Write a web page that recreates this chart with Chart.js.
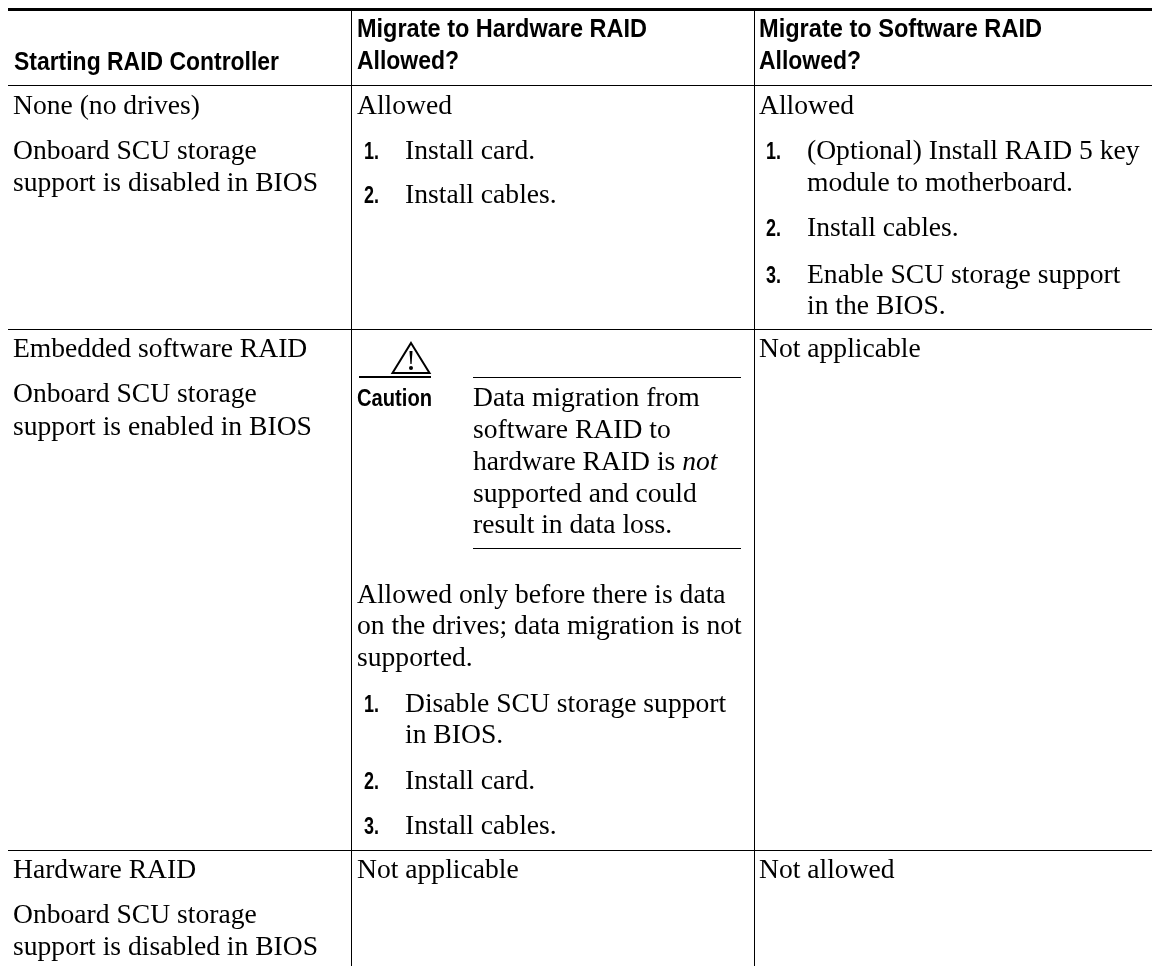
<!DOCTYPE html>
<html>
<head>
<meta charset="utf-8">
<title>RAID migration</title>
<script src="https://cdn.jsdelivr.net/npm/chart.js@4"></script>
<style>
html, body { margin: 0; padding: 0; background: #fff; }
canvas { display: block; }
</style>
</head>
<body>
<canvas id="table" width="1152" height="966"></canvas>
<script>
// table text, one array per group of lines
var headerLines = ['Starting RAID Controller', 'Migrate to Hardware RAID', 'Allowed?', 'Migrate to Software RAID', 'Allowed?'];
var startLines = ['None (no drives)', 'Onboard SCU storage', 'support is disabled in BIOS',
  'Embedded software RAID', 'Onboard SCU storage', 'support is enabled in BIOS',
  'Hardware RAID', 'Onboard SCU storage', 'support is disabled in BIOS'];
var hardwareLines = ['Allowed', 'Data migration from', 'software RAID to', 'hardware RAID is ', 'supported and could', 'result in data loss.',
  'Allowed only before there is data', 'on the drives; data migration is not', 'supported.', 'Not applicable'];
var softwareLines = ['Allowed', 'Not applicable', 'Not allowed'];
var hardwareSteps = ['Install card.', 'Install cables.', 'Disable SCU storage support', 'in BIOS.', 'Install card.', 'Install cables.'];
var hardwareNums = ['1.', '2.', '1.', '', '2.', '3.'];
var softwareSteps = ['(Optional) Install RAID 5 key', 'module to motherboard.', 'Install cables.', 'Enable SCU storage support', 'in the BIOS.'];
var softwareNums = ['1.', '', '2.', '3.', ''];

// layout, in page pixels
var colEdges = [351, 754];
var rowEdges = [9.5, 85, 329, 850];
var headerX = [14, 357, 357, 759, 759];
var headerY = [70, 37, 69, 37, 69];
var headerW = [265, 290, 102, 283, 102];
var startY = [114, 159, 191, 357, 402, 435, 878, 923, 955];
var hardwareX = [357, 473, 473, 473, 473, 473, 357, 357, 357, 357];
var hardwareY = [114, 406, 438, 470, 502, 533, 603, 634, 666, 878];
var softwareY = [114, 357, 878];
var hardwareStepY = [159, 203, 712, 743, 789, 834];
var softwareStepY = [159, 191, 236, 283, 314];

var serif = '27.6px "Liberation Serif"';
var narrowHead = 'bold 25.5px "Liberation Sans"';
var narrowNum = 'bold 24px "Liberation Sans"';
var narrowCaution = 'bold 23px "Liberation Sans"';

var tablePlugin = {
  id: 'tableText',
  afterDraw: function (chart) {
    var c = chart.ctx, sx = chart.scales.x, sy = chart.scales.y;
    function px(v) { return sx.getPixelForValue(v); }
    function py(v) { return sy.getPixelForValue(v); }
    function put(t, x, y) {
      c.font = serif;
      c.fillText(t, px(x), py(y));
    }
    // no narrow face installed, so squeeze the bold one
    function putBold(t, x, y, font, w) {
      if (!t) return;
      c.font = font;
      c.fillText(t, px(x), py(y), w);
    }
    c.save();
    c.fillStyle = '#000';
    c.textBaseline = 'alphabetic';
    headerLines.forEach(function (t, i) { putBold(t, headerX[i], headerY[i], narrowHead, headerW[i]); });
    startLines.forEach(function (t, i) { put(t, 13, startY[i]); });
    hardwareLines.forEach(function (t, i) { put(t, hardwareX[i], hardwareY[i]); });
    softwareLines.forEach(function (t, i) { put(t, 759, softwareY[i]); });
    hardwareSteps.forEach(function (t, i) {
      put(t, 405, hardwareStepY[i]);
      putBold(hardwareNums[i], 364, hardwareStepY[i], narrowNum, 15);
    });
    softwareSteps.forEach(function (t, i) {
      put(t, 807, softwareStepY[i]);
      putBold(softwareNums[i], 766, softwareStepY[i], narrowNum, 15);
    });
    // italic word inside the caution text
    c.font = serif;
    var w = c.measureText(hardwareLines[3]).width;
    c.font = 'italic 27.6px "Liberation Serif"';
    c.fillText('not', px(473) + w, py(470));
    putBold('Caution', 357, 406, narrowCaution, 75);

    // caution rules
    c.strokeStyle = '#000';
    c.lineWidth = 1;
    c.beginPath();
    c.moveTo(px(473), py(377.5)); c.lineTo(px(741), py(377.5));
    c.moveTo(px(473), py(548.5)); c.lineTo(px(741), py(548.5));
    c.stroke();
    c.lineWidth = 2;
    c.beginPath();
    c.moveTo(px(359), py(377)); c.lineTo(px(431), py(377));
    c.stroke();
    // warning triangle
    c.lineWidth = 2;
    c.lineJoin = 'miter';
    c.beginPath();
    c.moveTo(px(411), py(343)); c.lineTo(px(429.5), py(373)); c.lineTo(px(392.5), py(373));
    c.closePath();
    c.stroke();
    c.beginPath();
    c.moveTo(px(409.5), py(351)); c.lineTo(px(412.5), py(351)); c.lineTo(px(411.6), py(364)); c.lineTo(px(410.4), py(364));
    c.closePath();
    c.fill();
    c.beginPath();
    c.arc(px(411), py(368), 2, 0, Math.PI * 2);
    c.fill();
    c.restore();
  }
};

var chart = new Chart(document.getElementById('table').getContext('2d'), {
  type: 'scatter',
  data: { datasets: [{ data: [] }] },
  plugins: [tablePlugin],
  options: {
    responsive: false,
    animation: false,
    layout: { padding: { left: 8, top: 8, right: 0, bottom: 0 } },
    plugins: { legend: { display: false }, tooltip: { enabled: false } },
    scales: {
      x: {
        type: 'linear', min: 8, max: 1152,
        afterBuildTicks: function (s) { s.ticks = colEdges.map(function (v) { return { value: v }; }); },
        grid: { color: '#000', lineWidth: 1, drawTicks: false },
        border: { display: false },
        ticks: { display: false }
      },
      y: {
        type: 'linear', min: 8, max: 966, reverse: true,
        afterBuildTicks: function (s) { s.ticks = rowEdges.map(function (v) { return { value: v }; }); },
        grid: {
          color: '#000', drawTicks: false,
          lineWidth: function (g) { return g.index === 0 ? 3 : 1; }
        },
        border: { display: false },
        ticks: { display: false }
      }
    }
  }
});
</script>
</body>
</html>
